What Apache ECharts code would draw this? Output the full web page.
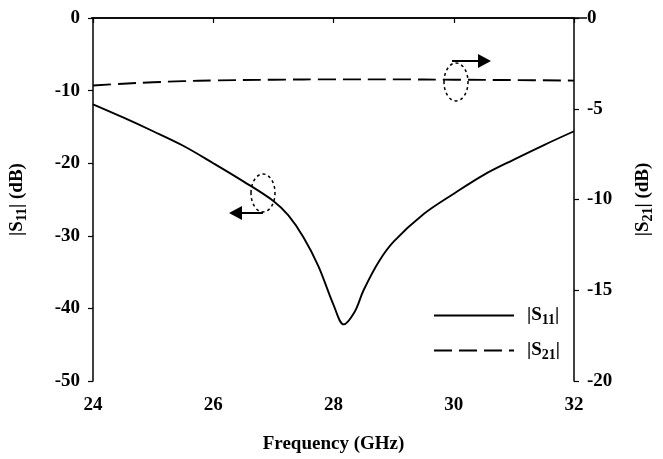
<!DOCTYPE html>
<html>
<head>
<meta charset="utf-8">
<script src="https://cdn.jsdelivr.net/npm/echarts@6/dist/echarts.min.js"></script>
<style>
  html, body { margin: 0; padding: 0; background: #fff; }
  #chart { width: 663px; height: 459px; }
</style>
</head>
<body>
<div id="chart"></div>
<script>
// frequency points (GHz) and read-off values (dB)
const freqS11 = [24, 24.5, 25, 25.5, 26, 26.5, 27, 27.25, 27.5, 27.75, 28, 28.17, 28.35, 28.5, 28.75, 29, 29.5, 30, 30.5, 31, 31.5, 32];
const s11 = [-11.9, -13.7, -15.6, -17.6, -20.0, -22.5, -25.2, -27.2, -30.2, -34.2, -39.5, -42.2, -40.5, -37.5, -33.6, -30.8, -27.0, -24.2, -21.6, -19.5, -17.5, -15.6];
const freqS21 = [24, 24.5, 25, 25.5, 26, 27, 28, 29, 30, 31, 32];
const s21 = [-3.72, -3.62, -3.54, -3.48, -3.44, -3.40, -3.38, -3.38, -3.40, -3.42, -3.45];
const xTicks = [24, 26, 28, 30, 32];

const pair = (xs, ys) => xs.map((x, i) => [x, ys[i]]);
const font = 'Liberation Serif';

const chart = echarts.init(document.getElementById('chart'));

const axisCommon = {
  axisLine: { lineStyle: { color: '#000', width: 1.5 } },
  axisTick: { length: 5, lineStyle: { color: '#000', width: 1.2 } },
  axisLabel: { color: '#000', fontFamily: font, fontWeight: 'bold', fontSize: 19, margin: 13 },
  splitLine: { show: false }
};

const nameRich = {
  n: { fontFamily: font, fontWeight: 'bold', fontSize: 19, color: '#000' },
  s: { fontFamily: font, fontWeight: 'bold', fontSize: 14, color: '#000', padding: [9, 0, 0, 0] }
};

chart.setOption({
  animation: false,
  backgroundColor: '#fff',
  grid: { left: 91, right: 76, top: 18, bottom: 75 },
  legend: {
    orient: 'vertical',
    left: 428,
    top: 301,
    itemWidth: 80,
    itemHeight: 14,
    itemGap: 14,
    data: ['S11', 'S21'],
    itemStyle: { opacity: 0 },
    formatter: name => '{n||S}{s|' + name.slice(1) + '}{n||}',
    textStyle: { rich: nameRich, padding: [0, 0, 0, 8] }
  },
  xAxis: {
    type: 'value',
    min: 24,
    max: 32,
    interval: 2,
    name: 'Frequency (GHz)',
    nameLocation: 'middle',
    nameGap: 54,
    nameTextStyle: { color: '#000', fontFamily: font, fontWeight: 'bold', fontSize: 19 },
    ...axisCommon,
    axisLabel: { ...axisCommon.axisLabel, margin: 15, formatter: v => xTicks.includes(v) ? String(v) : '' }
  },
  yAxis: [
    {
      type: 'value',
      min: -50,
      max: 0,
      interval: 10,
      position: 'left',
      name: '{n||S}{s|11}{n|| (dB)}',
      nameLocation: 'middle',
      nameGap: 64,
      nameTextStyle: { rich: nameRich },
      ...axisCommon
    },
    {
      type: 'value',
      min: -20,
      max: 0,
      interval: 5,
      position: 'right',
      name: '{n||S}{s|21}{n|| (dB)}',
      nameLocation: 'middle',
      nameRotate: 90,
      nameGap: 58,
      nameTextStyle: { rich: nameRich },
      ...axisCommon
    }
  ],
  series: [
    {
      name: 'S11',
      type: 'line',
      yAxisIndex: 0,
      data: pair(freqS11, s11),
      smooth: 0.35,
      showSymbol: false,
      symbol: 'none',
      lineStyle: { color: '#000', width: 1.9 },
      itemStyle: { color: '#000' }
    },
    {
      name: 'S21',
      type: 'line',
      yAxisIndex: 1,
      data: pair(freqS21, s21),
      smooth: 0.4,
      showSymbol: false,
      symbol: 'none',
      lineStyle: { color: '#000', width: 1.9, type: [18, 7] },
      itemStyle: { color: '#000' }
    }
  ],
  graphic: [
    // top border of the frame
    { type: 'line', shape: { x1: 91, y1: 18, x2: 587, y2: 18 }, style: { stroke: '#000', lineWidth: 1.5 } },
    // S11 annotation: dotted ellipse + left arrow
    { type: 'ellipse', shape: { cx: 263, cy: 193, rx: 12, ry: 19 }, style: { fill: 'none', stroke: '#000', lineWidth: 1.5, lineDash: [3, 3] } },
    { type: 'line', shape: { x1: 263, y1: 213, x2: 240, y2: 213 }, style: { stroke: '#000', lineWidth: 2 } },
    { type: 'polygon', shape: { points: [[229, 213], [242, 206], [242, 220]] }, style: { fill: '#000' } },
    // S21 annotation: dotted ellipse + right arrow
    { type: 'ellipse', shape: { cx: 456, cy: 82, rx: 12, ry: 19 }, style: { fill: 'none', stroke: '#000', lineWidth: 1.5, lineDash: [3, 3] } },
    { type: 'line', shape: { x1: 452, y1: 61, x2: 480, y2: 61 }, style: { stroke: '#000', lineWidth: 2 } },
    { type: 'polygon', shape: { points: [[491, 61], [478, 54], [478, 68]] }, style: { fill: '#000' } }
  ]
});
</script>
</body>
</html>
